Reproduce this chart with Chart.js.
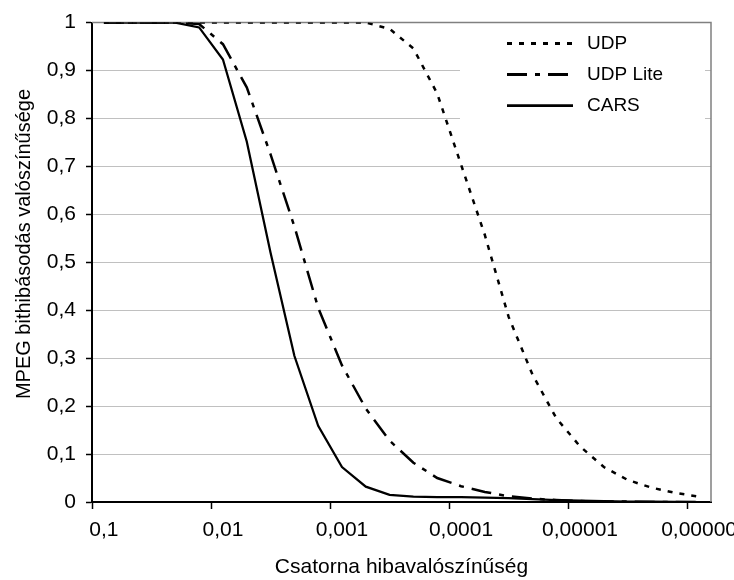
<!DOCTYPE html>
<html>
<head>
  <title>MPEG bithibásodás</title>
  <script src="https://cdn.jsdelivr.net/npm/chart.js"></script>
  <style>
    body { margin: 0; background: #fff; }
    #wrap { width: 734px; height: 580px; }
  </style>
</head>
<body>
  <div id="wrap"><canvas id="chart"></canvas></div>

  <script>
    // csatorna hibavalószínűség (kategóriák, 5 pont / dekád)
    var categories = [0.1, 0.063, 0.04, 0.025, 0.016, 0.01, 0.0063, 0.004, 0.0025, 0.0016,
      0.001, 0.00063, 0.0004, 0.00025, 0.00016, 0.0001, 0.000063, 0.00004, 0.000025, 0.000016,
      0.00001, 0.0000063, 0.000004, 0.0000025, 0.0000016, 0.000001];
    var xTickLabels = ["0,1", "0,01", "0,001", "0,0001", "0,00001", "0,00000"];
    var yTickLabels = ["0", "0,1", "0,2", "0,3", "0,4", "0,5", "0,6", "0,7", "0,8", "0,9", "1"];

    var udp = [1, 1, 1, 1, 1, 1, 1, 1, 1, 1, 1, 1, 0.987, 0.946, 0.852, 0.704, 0.557, 0.386,
      0.266, 0.175, 0.116, 0.073, 0.046, 0.030, 0.019, 0.011];
    var udpLite = [1, 1, 1, 1, 0.997, 0.955, 0.865, 0.725, 0.575, 0.405, 0.285, 0.195, 0.128,
      0.082, 0.05, 0.033, 0.021, 0.012, 0.007, 0.004, 0.002, 0.001, 0.001, 0, 0, 0];
    var cars = [1, 1, 1, 1, 0.99, 0.923, 0.752, 0.52, 0.305, 0.159, 0.073, 0.032, 0.015,
      0.011, 0.01, 0.01, 0.009, 0.008, 0.006, 0.004, 0.003, 0.002, 0.001, 0.001, 0.0005, 0];

    Chart.defaults.font.family = "'Liberation Sans', Arial, sans-serif";
    Chart.defaults.color = "#000";

    // keret (szürke felső/jobb él) + jelmagyarázat a rajzterületen belül
    var frameAndLegend = {
      id: "frameAndLegend",
      beforeDatasetsDraw: function(chart) {
        var ctx = chart.ctx, a = chart.chartArea;
        ctx.save();
        ctx.strokeStyle = "#808080";
        ctx.lineWidth = 1.5;
        ctx.beginPath();
        ctx.moveTo(a.left, a.top);
        ctx.lineTo(a.right, a.top);
        ctx.lineTo(a.right, a.bottom);
        ctx.stroke();
        ctx.restore();
      },
      afterDatasetsDraw: function(chart) {
        var ctx = chart.ctx, a = chart.chartArea;
        ctx.save();
        ctx.fillStyle = "#fff";
        ctx.fillRect(a.right - 251, a.top + 3, 245, 106);
        ctx.font = "19px 'Liberation Sans', Arial, sans-serif";
        ctx.textBaseline = "middle";
        ctx.textAlign = "left";
        chart.data.datasets.forEach(function(ds, i) {
          var y = a.top + 21 + i * 31;
          ctx.strokeStyle = "#000";
          ctx.lineWidth = ds.borderWidth + 0.5;
          ctx.setLineDash(ds.borderDash || []);
          ctx.beginPath();
          ctx.moveTo(a.right - 204, y);
          ctx.lineTo(a.right - 138, y);
          ctx.stroke();
          ctx.fillStyle = "#000";
          ctx.fillText(ds.label, a.right - 124, y);
        });
        ctx.restore();
      },
      afterDraw: function(chart) {
        var ctx = chart.ctx;
        ctx.save();
        ctx.translate(24, 244);
        ctx.rotate(-Math.PI / 2);
        ctx.font = "20px 'Liberation Sans', Arial, sans-serif";
        ctx.fillStyle = "#000";
        ctx.textAlign = "center";
        ctx.textBaseline = "middle";
        ctx.fillText("MPEG bithibásodás valószínűsége", 0, 0);
        ctx.restore();
      }
    };

    var ctx = document.getElementById("chart").getContext("2d");
    var chart = new Chart(ctx, {
      type: "line",
      data: {
        labels: categories,
        datasets: [
          { label: "UDP", data: udp, borderColor: "#000", borderWidth: 2.5, borderDash: [5, 7], pointRadius: 0, fill: false },
          { label: "UDP Lite", data: udpLite, borderColor: "#000", borderWidth: 2.5, borderDash: [20, 8, 5, 8], pointRadius: 0, fill: false },
          { label: "CARS", data: cars, borderColor: "#000", borderWidth: 2.25, pointRadius: 0, fill: false }
        ]
      },
      options: {
        responsive: true,
        maintainAspectRatio: false,
        animation: false,
        layout: { padding: { top: 21, right: 23, left: 0, bottom: 0 } },
        plugins: { legend: { display: false }, tooltip: { enabled: false } },
        scales: {
          x: {
            type: "category",
            offset: true,
            grid: {
              offset: true,
              drawOnChartArea: false,
              tickLength: 7,
              tickWidth: 1.5,
              tickColor: function(c) { return c.index % 5 === 0 ? "#000" : "rgba(0,0,0,0)"; }
            },
            border: { color: "#000", width: 2 },
            ticks: {
              autoSkip: false,
              maxRotation: 0,
              padding: 9,
              font: { size: 21 },
              callback: function(v, i) { return i % 5 === 0 ? xTickLabels[i / 5] : ""; }
            },
            title: { display: true, text: "Csatorna hibavalószínűség", font: { size: 21 }, padding: 0 },
            afterFit: function(s) { s.height = 78; s.paddingLeft = 0; s.paddingRight = 0; }
          },
          y: {
            min: 0,
            max: 1,
            ticks: {
              stepSize: 0.1,
              padding: 10,
              font: { size: 21 },
              callback: function(v, i) { return yTickLabels[i]; }
            },
            grid: { color: "#c0c0c0", lineWidth: 1, tickLength: 6, tickWidth: 1.5, tickColor: "#000" },
            border: { color: "#000", width: 2 },
            afterFit: function(s) { s.width = 92; }
          }
        }
      },
      plugins: [frameAndLegend]
    });
  </script>
</body>
</html>
